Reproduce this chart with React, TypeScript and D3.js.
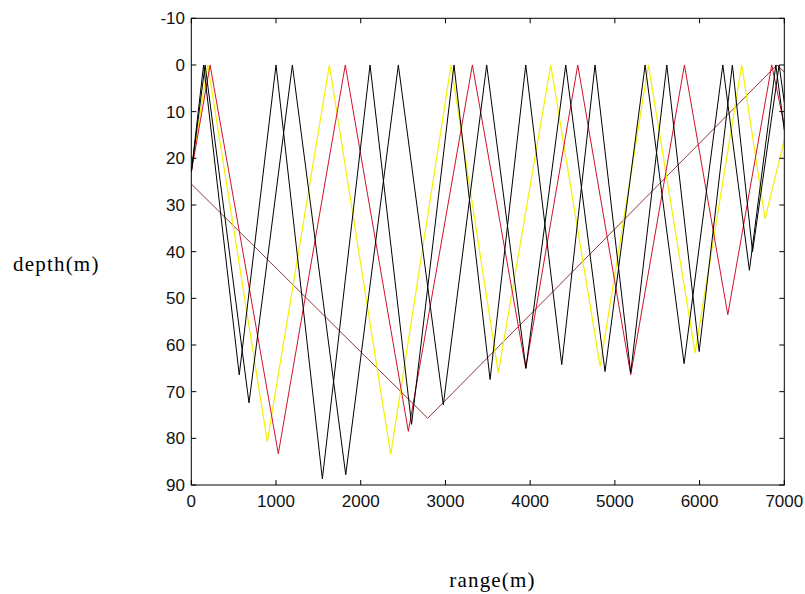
import React from "react";
import * as d3 from "d3";

// Ray paths: [range (m), depth (m)]
const blackRayA: [number, number][] = [
  [0, 23], [145, 0], [566, 66.4], [1000, 0], [1547, 88.7], [2110, 0], [2600, 77],
  [3101, 0], [3527, 67.4], [3948, 0], [4373, 64.2], [4766, 0], [5187, 66], [5613, 0],
  [5995, 61.4], [6387, 0], [6625, 40], [6939, 0], [7000, 8],
];
const blackRayB: [number, number][] = [
  [0, 23], [163, 0], [681, 72.4], [1193, 0], [1823, 87.8], [2444, 0], [2975, 72.8],
  [3487, 0], [3950, 65], [4420, 0], [4884, 65.7], [5357, 0], [5817, 64], [6274, 0],
  [6588, 44], [6900, 0], [7000, 14],
];
const yellowRay: [number, number][] = [
  [0, 22.5], [195, 0], [897, 80.7], [1630, 0], [2354, 83.5], [3066, 0], [3624, 66],
  [4243, 0], [4826, 64.6], [5396, 0], [5947, 61.7], [6498, 0], [6773, 33], [7000, 16],
];
const redRay: [number, number][] = [
  [0, 23], [222, 0], [1027, 83.3], [1818, 0], [2562, 78.5], [3318, 0], [3948, 65],
  [4562, 0], [5187, 66.4], [5821, 0], [6333, 53.5], [6852, 0], [7000, 13],
];
const brownRay: [number, number][] = [
  [0, 25.5], [2791, 75.7], [6912, 0], [7000, 1.5],
];

const xTicks = [0, 1000, 2000, 3000, 4000, 5000, 6000, 7000];
const yTicks = [-10, 0, 10, 20, 30, 40, 50, 60, 70, 80, 90];

const rays = [
  { data: brownRay, color: "#8e3a3a", width: 1 },
  { data: yellowRay, color: "#f4f000", width: 1.2 },
  { data: redRay, color: "#d0102a", width: 1 },
  { data: blackRayB, color: "#000000", width: 1 },
  { data: blackRayA, color: "#000000", width: 1 },
];

export default function App() {
  const W = 805, H = 594;
  const left = 191.3, right = 784.3, top = 18.3, bottom = 485;
  const x = d3.scaleLinear().domain([0, 7000]).range([left, right]);
  const y = d3.scaleLinear().domain([-10, 90]).range([top, bottom]);
  const line = d3.line<[number, number]>().x((d) => x(d[0])).y((d) => y(d[1]));
  const tickLen = 5;
  const tickFont = "'Liberation Sans', Arial, sans-serif";
  return (
    <svg width={W} height={H} style={{ position: "absolute", left: 0, top: 0, background: "#fff" }}>
      <rect x={0} y={0} width={W} height={H} fill="#fff" />
      <defs>
        <clipPath id="plotclip">
          <rect x={left} y={top} width={right - left} height={bottom - top} />
        </clipPath>
      </defs>
      <g clipPath="url(#plotclip)">
        {rays.map((r, i) => (
          <path key={i} d={line(r.data) || ""} fill="none" stroke={r.color} strokeWidth={r.width} strokeLinejoin="miter" />
        ))}
      </g>
      <rect x={left} y={top} width={right - left} height={bottom - top} fill="none" stroke="#000" strokeWidth={1} />
      {xTicks.map((t) => (
        <g key={"x" + t}>
          <line x1={x(t)} x2={x(t)} y1={bottom} y2={bottom - tickLen} stroke="#000" />
          <line x1={x(t)} x2={x(t)} y1={top} y2={top + tickLen} stroke="#000" />
          <text x={x(t)} y={507} textAnchor="middle" fontFamily={tickFont} fontSize={17} fill="#111">{t}</text>
        </g>
      ))}
      {yTicks.map((t) => (
        <g key={"y" + t}>
          <line x1={left} x2={left + tickLen} y1={y(t)} y2={y(t)} stroke="#000" />
          <line x1={right} x2={right - tickLen} y1={y(t)} y2={y(t)} stroke="#000" />
          <text x={185} y={y(t)} dy="0.36em" textAnchor="end" fontFamily={tickFont} fontSize={17} fill="#111">{t}</text>
        </g>
      ))}
      <text x={13} y={271} fontFamily="'Liberation Serif', 'Times New Roman', serif" fontSize={21} letterSpacing={1.2} fill="#000">depth(m)</text>
      <text x={492.5} y={587} textAnchor="middle" fontFamily="'Liberation Serif', 'Times New Roman', serif" fontSize={21} letterSpacing={1.2} fill="#000">range(m)</text>
    </svg>
  );
}
